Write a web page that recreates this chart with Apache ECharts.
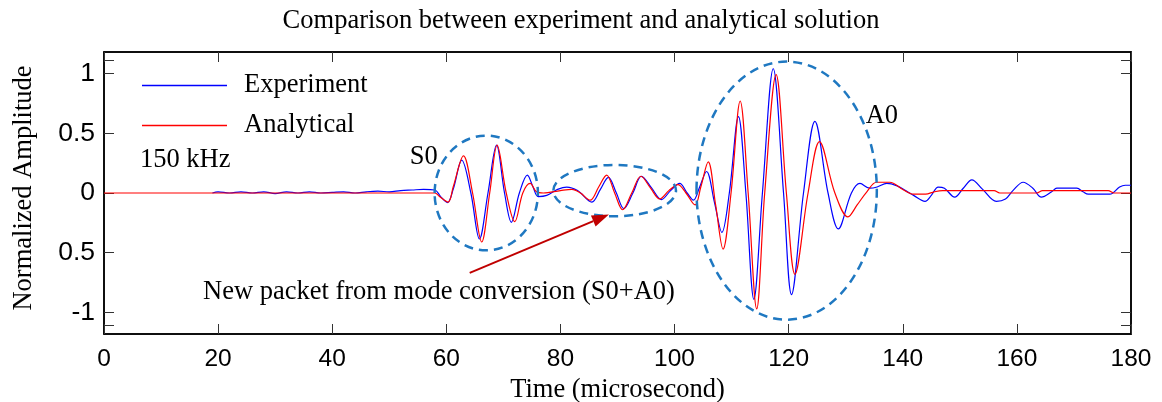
<!DOCTYPE html>
<html><head><meta charset="utf-8">
<script src="https://cdn.jsdelivr.net/npm/echarts@6/dist/echarts.min.js"></script>
<style>html,body{margin:0;padding:0;background:#fff}#c{width:1162px;height:402px}</style>
</head><body><div id="c"></div>
<script>
// ---- data ----
const xTickValues = [0, 20, 40, 60, 80, 100, 120, 140, 160, 180];
const yTickValues = [-1, -0.5, 0, 0.5, 1];
const yTickLabels = ['-1', '0.5', '0', '0.5', '1'];
const yMinorTickValues = [-1.11, 1.11];

const experimentTime = [19, 20, 22, 24, 26, 28, 30, 32, 34, 36, 38, 40, 42, 44, 46, 48, 50, 52, 54, 56, 58,
  59, 60.2, 61.2, 62.7, 64.3, 65.8, 67.3, 68.8, 70.2, 71.4, 72.8, 74.2, 75.2, 76.1, 77.6, 79.5, 81.1, 83,
  85.5, 87, 88.4, 89.8, 91.1, 92.7, 94.2, 96, 97.7, 99.3, 100.9, 102.2, 103.3, 104.4, 105.6, 107, 108.3,
  109.6, 111.2, 112.5, 113.9, 115.4, 117.3, 119.1, 120.5, 122.6, 124.6, 126.9, 128.7, 131, 132.5, 134.2,
  135.5, 137.2, 139, 140.5, 141.9, 143.9, 145, 146.2, 147.3, 149.1, 150.6, 152.1, 154, 156.4, 158, 159.3,
  161.1, 162.8, 164.3, 166.1, 167, 170.5, 171.6, 172.5, 176.3, 178, 179, 180];
const experimentAmp = [0, 0.01, 0, 0.01, 0, 0.01, -0.005, 0.01, 0, 0.01, 0, 0.005, 0.01, 0, 0.01, 0.015, 0.01, 0.02, 0.025, 0.03, 0.025,
  -0.03, -0.08, 0.03, 0.275, 0, -0.385, 0, 0.40, 0, -0.245, 0, 0.15, 0.05, -0.03, -0.02, 0.03, 0.05, 0.02,
  -0.076, 0.03, 0.13, 0, -0.13, 0, 0.14, 0.04, -0.055, 0.02, 0.08, 0, -0.06, 0.05, 0.18, -0.08, -0.33,
  0, 0.64, 0, -0.89, 0, 1.04, 0, -0.85, 0, 0.60, 0, -0.30, 0, 0.08, 0.04,
  0.05, 0.08, 0.06, 0.02, -0.02, -0.07, -0.02, 0.05, 0.04, -0.035, 0.04, 0.11, 0.03, -0.07, -0.05, 0.02,
  0.09, 0.04, -0.035, 0.01, 0.04, 0.04, 0.01, -0.01, -0.01, 0.05, 0.065, 0.065];

const analyticalTime = [0, 58, 58.8, 60.3, 61.2, 63, 64.6, 66.2, 67.6, 68.9, 70.5, 72, 73.4, 74.7, 75.8, 77,
  80, 82, 83.5, 85.2, 86.7, 88.1, 89.5, 90.9, 92.5, 94.1, 95.8, 97.4, 99, 100.6, 102, 103.6, 104.6, 105.9,
  107.2, 108.5, 109.9, 111.5, 112.9, 114.4, 115.8, 117.8, 119.6, 121.1, 123.4, 125.4, 128.1, 130.4, 132,
  133.7, 135.4, 137.7, 140, 141.8, 144, 145.5, 147, 156, 157, 163.5, 164.5, 176, 177, 180];
const analyticalAmp = [0, 0, -0.03, -0.076, 0.05, 0.31, 0, -0.41, 0, 0.40, 0, -0.24, 0, 0.08, 0.01, 0,
  0.02, 0.03, 0, -0.06, 0.05, 0.15, 0, -0.14, 0, 0.14, 0.04, -0.05, 0.02, 0.07, 0, -0.10, 0.05, 0.26,
  -0.1, -0.47, 0, 0.77, 0, -0.97, 0, 0.99, 0, -0.68, 0, 0.43, 0, -0.20, -0.1,
  0.01, 0.09, 0.09, 0.03, -0.01, -0.01, 0.01, 0.02, 0.02, 0, 0, 0.02, 0.02, 0, 0];

// annotation anchors in data coordinates
const textNotes = [
  {text: '150 kHz', t: 6.3, a: 0.275},
  {text: 'S0', t: 53.6, a: 0.30},
  {text: 'A0', t: 133.5, a: 0.64},
  {text: 'New packet from mode conversion (S0+A0)', t: 17.35, a: -0.83}
];
const arrowFrom = [64.1, -0.668];
const arrowTo = [88.5, -0.18];
const ellipses = [
  {t: 67.0, a: 0.0, dt: 9.05, da: 0.48},
  {t: 89.5, a: 0.02, dt: 10.75, da: 0.215},
  {t: 119.65, a: 0.02, dt: 15.8, da: 1.08}
];

const zip = (xs, ys) => xs.map((x, i) => [x, ys[i]]);
const SERIF = '"Liberation Serif", "Times New Roman", serif';
const SANS = '"Liberation Sans", Arial, sans-serif';
const SERIF_SIZE = 26.5;

const chart = echarts.init(document.getElementById('c'), null, {renderer: 'canvas'});
const baseX = {
  type: 'value', min: 0, max: 180, interval: 20,
  axisLine: {show: true, onZero: false, lineStyle: {color: '#000', width: 1.5}},
  splitLine: {show: false}
};
const baseY = {
  type: 'value', min: -1.18, max: 1.18,
  axisLine: {show: true, onZero: false, lineStyle: {color: '#000', width: 1.5}},
  splitLine: {show: false}
};
chart.setOption({
  animation: false,
  backgroundColor: '#fff',
  title: {
    text: 'Comparison between experiment and analytical solution',
    left: 'center', top: 3,
    textStyle: {fontFamily: SERIF, fontSize: SERIF_SIZE, fontWeight: 'normal', color: '#000'}
  },
  legend: {
    orient: 'vertical', left: 137, top: 67,
    icon: 'rect', itemWidth: 85, itemHeight: 1.3, itemGap: 13,
    textStyle: {fontFamily: SERIF, fontSize: SERIF_SIZE, color: '#000', padding: [0, 0, 0, 12]},
    data: ['Experiment', 'Analytical']
  },
  grid: {left: 104, right: 31, top: 52, bottom: 68, show: true, borderColor: '#000', borderWidth: 1.5,
    containLabel: false, outerBoundsMode: 'none'},
  xAxis: [
    Object.assign({}, baseX, {
      position: 'bottom',
      axisTick: {show: true, inside: true, length: 10, lineStyle: {color: '#333'}},
      axisLabel: {show: true, margin: 13, fontFamily: SANS, fontSize: 24.5, color: '#000'},
      name: 'Time (microsecond)', nameLocation: 'middle', nameGap: 33,
      nameTextStyle: {fontFamily: SERIF, fontSize: SERIF_SIZE, color: '#000'}
    }),
    Object.assign({}, baseX, {
      position: 'top',
      axisTick: {show: true, inside: true, length: 10, lineStyle: {color: '#333'}},
      axisLabel: {show: false}
    })
  ],
  yAxis: [
    Object.assign({}, baseY, {
      position: 'left',
      axisTick: {show: true, inside: true, length: 10, lineStyle: {color: '#333'},
        customValues: yTickValues.concat(yMinorTickValues)},
      axisLabel: {show: true, margin: 9, fontFamily: SANS, fontSize: 26.5, color: '#000',
        customValues: yTickValues,
        formatter: v => { const i = yTickValues.findIndex(y => Math.abs(y - v) < 1e-6); return i >= 0 ? yTickLabels[i] : ''; }},
      name: 'Normalized Amplitude', nameLocation: 'middle', nameGap: 66,
      nameTextStyle: {fontFamily: SERIF, fontSize: SERIF_SIZE, color: '#000', padding: [0, 0, 0, 10]}
    }),
    Object.assign({}, baseY, {
      position: 'right',
      axisTick: {show: true, inside: true, length: 10, lineStyle: {color: '#333'},
        customValues: yTickValues.concat(yMinorTickValues)},
      axisLabel: {show: false}
    })
  ],
  series: [
    {
      name: 'Experiment', type: 'line', xAxisIndex: 0, yAxisIndex: 0,
      data: zip(experimentTime, experimentAmp),
      symbol: 'none', smooth: 0.35, color: '#0000ff',
      lineStyle: {color: '#0000ff', width: 1.2}
    },
    {
      name: 'Analytical', type: 'line', xAxisIndex: 0, yAxisIndex: 0,
      data: zip(analyticalTime, analyticalAmp),
      symbol: 'none', smooth: 0.35, color: '#ff0000',
      lineStyle: {color: '#ff0000', width: 1.2}
    }
  ]
});

function px(p) { return chart.convertToPixel({gridIndex: 0}, p); }
const graphics = [];
ellipses.forEach(e => {
  const c = px([e.t, e.a]);
  const r = px([e.t + e.dt, e.a + e.da]);
  graphics.push({
    type: 'ellipse', z: 100,
    shape: {cx: c[0], cy: c[1], rx: Math.abs(r[0] - c[0]), ry: Math.abs(c[1] - r[1])},
    style: {fill: null, stroke: '#1f78c1', lineWidth: 2.5, lineDash: [9, 6]}
  });
});
textNotes.forEach(n => {
  const p = px([n.t, n.a]);
  graphics.push({
    type: 'text', z: 100, x: p[0], y: p[1],
    style: {text: n.text, fontFamily: SERIF, fontSize: SERIF_SIZE, fill: '#000', verticalAlign: 'middle', align: 'left'}
  });
});
const a0 = px(arrowFrom), a1 = px(arrowTo);
const ang = Math.atan2(a1[1] - a0[1], a1[0] - a0[0]);
const headLen = 17, headW = 6;
const bx = a1[0] - headLen * Math.cos(ang), by = a1[1] - headLen * Math.sin(ang);
graphics.push({
  type: 'line', z: 100,
  shape: {x1: a0[0], y1: a0[1], x2: bx, y2: by},
  style: {stroke: '#c00000', lineWidth: 2}
});
graphics.push({
  type: 'polygon', z: 100,
  shape: {points: [
    [a1[0], a1[1]],
    [bx + headW * Math.sin(ang), by - headW * Math.cos(ang)],
    [bx - headW * Math.sin(ang), by + headW * Math.cos(ang)]
  ]},
  style: {fill: '#c00000'}
});
chart.setOption({graphic: {elements: graphics}});
</script>
</body></html>
